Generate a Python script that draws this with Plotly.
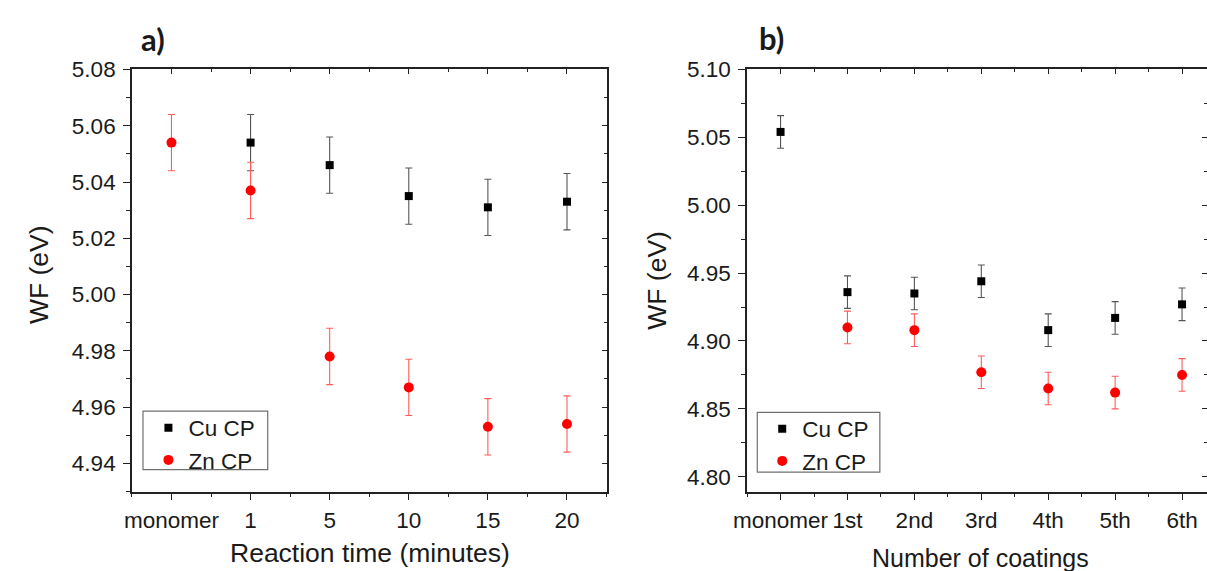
import numpy as np
import plotly.graph_objects as go

# ---------------- data ----------------
time_labels = ["monomer", "1", "5", "10", "15", "20"]
cu_time = [None, 5.054, 5.046, 5.035, 5.031, 5.033]
cu_time_err = [None, 0.010, 0.010, 0.010, 0.010, 0.010]
zn_time = [5.054, 5.037, 4.978, 4.967, 4.953, 4.954]
zn_time_err = [0.010, 0.010, 0.010, 0.010, 0.010, 0.010]

coat_labels = ["monomer", "1st", "2nd", "3rd", "4th", "5th", "6th"]
cu_coat = [5.054, 4.936, 4.935, 4.944, 4.908, 4.917, 4.927]
cu_coat_err = [0.012, 0.012, 0.012, 0.012, 0.012, 0.012, 0.012]
zn_coat = [None, 4.910, 4.908, 4.877, 4.865, 4.862, 4.875]
zn_coat_err = [None, 0.012, 0.012, 0.012, 0.012, 0.012, 0.012]

# ---------------- styling ----------------
W, H = 1207, 571
FONT = "Liberation Sans, Arial, sans-serif"
TXT = "#1a1a1a"
AX = "#222222"
BLACK = "#000000"
RED = "#ff0000"
BLACK_ERR = "#555555"
RED_ERR = "#ff5c5c"


def px_x(p):
    return p / W


def px_y(p):
    return 1 - p / H


fig = go.Figure()

xa_pos = list(range(len(time_labels)))
xb_pos = list(range(len(coat_labels)))


def add_series(x, y, err, name, color, ecolor, symbol, size, xaxis, yaxis, legend):
    fig.add_trace(go.Scatter(
        x=x, y=y, mode="markers", name=name,
        marker=dict(symbol=symbol, size=size, color=color, line=dict(width=0)),
        error_y=dict(type="data", array=err, visible=True, color=ecolor,
                     thickness=1.1, width=3.5),
        xaxis=xaxis, yaxis=yaxis, legend=legend, cliponaxis=False,
    ))


add_series(xa_pos, cu_time, cu_time_err, "Cu CP", BLACK, BLACK_ERR, "square", 8, "x", "y", "legend")
add_series(xa_pos, zn_time, zn_time_err, "Zn CP", RED, RED_ERR, "circle", 10, "x", "y", "legend")
add_series(xb_pos, cu_coat, cu_coat_err, "Cu CP", BLACK, BLACK_ERR, "square", 8, "x2", "y2", "legend2")
add_series(xb_pos, zn_coat, zn_coat_err, "Zn CP", RED, RED_ERR, "circle", 10, "x2", "y2", "legend2")

# invisible traces so the mirrored (top/right) axes are created
for xa, ya in (("x3", "y3"), ("x4", "y4")):
    fig.add_trace(go.Scatter(x=[None], y=[None], xaxis=xa, yaxis=ya,
                             showlegend=False, hoverinfo="skip"))

# domains (pixels -> paper)
a_x = [px_x(119.3), px_x(599.5)]
b_x = [px_x(741.7), 1.0]
a_y = [px_y(489.8), px_y(58.7)]
b_y = [px_y(490.0), px_y(58.7)]

a_xrange = [-0.5, len(time_labels) - 0.5]
b_xrange = [-0.5, -0.5 + (b_x[1] - b_x[0]) * W / 67.7]
a_yrange = [4.930, 5.080]
b_yrange = [4.789, 5.100]

ytickfont = dict(family=FONT, size=22.5, color=TXT)
xtickfont = dict(family=FONT, size=22.5, color=TXT)

common_line = dict(showline=True, linecolor=AX, linewidth=1.5, showgrid=False,
                   zeroline=False, tickcolor=AX, tickwidth=1.3)


def bottom_x(domain, rng, labels, anchor):
    return dict(domain=domain, range=rng, anchor=anchor, tickmode="array",
                tickvals=list(range(len(labels))), ticktext=labels,
                ticks="outside", ticklen=7, tickfont=xtickfont, ticklabelstandoff=1,
                minor=dict(tickmode="array",
                           tickvals=list(np.arange(-0.5, len(labels) + 0.6, 1.0)),
                           ticks="outside", ticklen=4, tickcolor=AX, tickwidth=1.3),
                **common_line)


def top_x(domain, rng, labels, overlay, anchor):
    return dict(domain=domain, range=rng, anchor=anchor, overlaying=overlay, side="top",
                tickmode="array", tickvals=list(range(len(labels))),
                showticklabels=False, ticks="inside", ticklen=5,
                minor=dict(tickmode="array",
                           tickvals=list(np.arange(-0.5, len(labels) + 0.6, 1.0)),
                           ticks="inside", ticklen=3, tickcolor=AX, tickwidth=1.3),
                **common_line)


def left_y(domain, rng, dtick, anchor, fmt):
    return dict(domain=domain, range=rng, anchor=anchor, tick0=0, dtick=dtick,
                tickformat=fmt, ticks="outside", ticklen=7, tickfont=ytickfont,
                ticklabelstandoff=3,
                minor=dict(dtick=dtick / 2, tick0=0, ticks="outside", ticklen=4,
                           tickcolor=AX, tickwidth=1.3),
                **common_line)


def right_y(domain, rng, dtick, overlay, anchor):
    return dict(domain=domain, range=rng, anchor=anchor, overlaying=overlay, side="right",
                tick0=0, dtick=dtick, showticklabels=False, ticks="inside", ticklen=5,
                minor=dict(dtick=dtick / 2, tick0=0, ticks="inside", ticklen=3,
                           tickcolor=AX, tickwidth=1.3),
                **common_line)


legend_common = dict(
    font=dict(family=FONT, size=22.5, color=TXT),
    bgcolor="rgba(255,255,255,0)", borderwidth=0,
    xanchor="left", yanchor="top", tracegroupgap=0, itemsizing="trace",
)

fig.update_layout(
    width=W, height=H, autosize=False,
    margin=dict(l=0, r=0, t=0, b=0, pad=0),
    paper_bgcolor="white", plot_bgcolor="white",
    font=dict(family=FONT, color=TXT),
    showlegend=True,
    xaxis=bottom_x(a_x, a_xrange, time_labels, "y"),
    yaxis=left_y(a_y, a_yrange, 0.02, "x", ".2f"),
    xaxis2=bottom_x(b_x, b_xrange, coat_labels, "y2"),
    yaxis2=left_y(b_y, b_yrange, 0.05, "x2", ".2f"),
    xaxis3=top_x(a_x, a_xrange, time_labels, "x", "y"),
    yaxis3=right_y(a_y, a_yrange, 0.02, "y", "x"),
    xaxis4=top_x(b_x, b_xrange, coat_labels, "x2", "y2"),
    yaxis4=right_y(b_y, b_yrange, 0.05, "y2", "x2"),
    legend=dict(x=px_x(136), y=px_y(403), **legend_common),
    legend2=dict(x=px_x(757), y=px_y(404), **legend_common),
)

# legend frames (box outlines as in the reference)
legend_boxes = [(130.5, 407.7, 256.7, 467.5), (752, 409, 876, 470)]
shapes = []
for (x0, y0, x1, y1) in legend_boxes:
    shapes.append(dict(type="rect", xref="paper", yref="paper",
                       x0=px_x(x0), x1=px_x(x1), y0=px_y(y1), y1=px_y(y0),
                       line=dict(color="#707070", width=1.2), fillcolor="white",
                       layer="below"))
fig.update_layout(shapes=shapes)

ann_font = dict(family=FONT, size=26.5, color=TXT)
annotations = [
    dict(text="WF (eV)", x=px_x(26), y=px_y(268), textangle=-90, font=ann_font),
    dict(text="WF (eV)", x=px_x(651), y=px_y(274), textangle=-90, font=ann_font),
    dict(text="Reaction time (minutes)", x=px_x(360), y=px_y(553), font=ann_font),
    dict(text="Number of coatings", x=px_x(978), y=px_y(558),
         font=dict(family=FONT, size=25, color=TXT)),
    dict(text="<b>a)</b>", x=px_x(141), y=px_y(28), font=dict(family="Lato, Open Sans, sans-serif", size=31, color=TXT)),
    dict(text="<b>b)</b>", x=px_x(766), y=px_y(27), font=dict(family="Lato, Open Sans, sans-serif", size=31, color=TXT)),
]
for a in annotations:
    a.update(xref="paper", yref="paper", showarrow=False, xanchor="center", yanchor="middle")
fig.update_layout(annotations=annotations)

fig.write_html(
    "out.html",
    config={"displayModeBar": False, "staticPlot": False},
    post_script="document.body.style.margin='0';document.body.style.overflow='hidden';",
)
